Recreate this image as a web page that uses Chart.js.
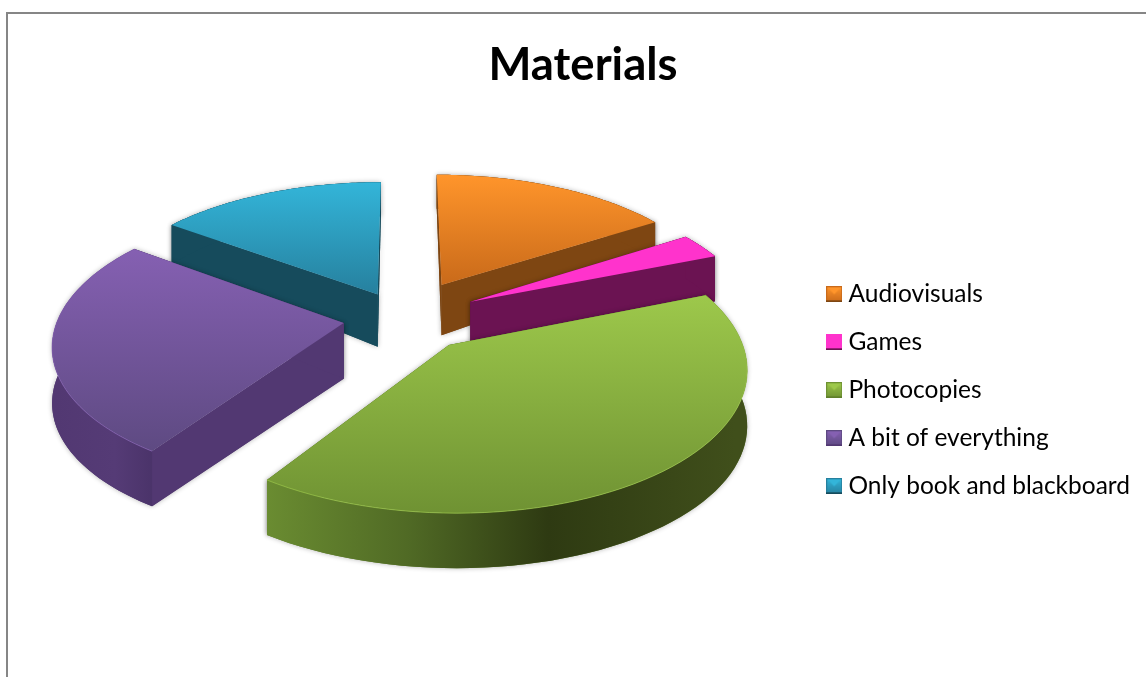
<!DOCTYPE html>
<html><head><meta charset="utf-8">
<style>html,body{margin:0;padding:0;background:#fff}#w{position:absolute;left:0;top:0;width:1146px;height:677px}</style>
<script src="https://cdn.jsdelivr.net/npm/chart.js@4"></script>
</head><body><div id="w"><canvas id="c" width="1146" height="677"></canvas></div>
<script>
const titleText = "Materials";
const categories = ["Audiovisuals","Games","Photocopies","A bit of everything","Only book and blackboard"];
const values = [16,3,40.5,25.5,15];
const explode = [0.29,0.27,0.25,0.21,0.2];
const topLight = ["#FF952B","#FF33CC","#9DC84B","#8560B2","#33B5D9"];
const topDark  = ["#C96A1A","#FF33CC","#6F9233","#5E4A82","#26809E"];
const sideCol  = ["#7E4612","#6B1352","#5F7F2B","#523872","#164B5C"];
const drawOrder = [4,0,1,3,2];
const view = {cx:403,cy:318,c:285.5,a:135,b:0.145};

function proj(u,v){const k=1+view.b*v;return [view.cx+view.c*u/k, view.cy-view.a*v/k];}
function depth(v){return v>0?56-22*Math.min(v,1):56-2*Math.max(v,-1)*-0-1*Math.min(1,-v);}
function trace(ctx,pts,move){pts.forEach((p,i)=>{(i===0&&move)?ctx.moveTo(p[0],p[1]):ctx.lineTo(p[0],p[1]);});}

const pie3d = {
  id:'pie3d',
  beforeDraw(chart){
    const ctx=chart.ctx;ctx.save();ctx.fillStyle='#fff';ctx.fillRect(0,0,1146,677);
    ctx.strokeStyle='#868686';ctx.lineWidth=2;ctx.beginPath();ctx.moveTo(7,677);ctx.lineTo(7,13);ctx.lineTo(1146,13);ctx.stroke();ctx.restore();
  },
  beforeDatasetDraw(chart,args){
    const ctx=chart.ctx, arcs=chart.getDatasetMeta(args.index).data;
    drawOrder.forEach(i=>{
      const el=arcs[i], s=el.startAngle, e=el.endAngle, m=(s+e)/2, off=el.options.offset/200;
      const ou=off*Math.cos(m), ov=-off*Math.sin(m);
      const rim=[],rimUV=[];const N=64;
      for(let k=0;k<=N;k++){const t=s+(e-s)*k/N;const u=ou+Math.cos(t),v=ov-Math.sin(t);rim.push(proj(u,v));rimUV.push([u,v]);}
      const apex=proj(ou,ov), dA=depth(ov);
      const rimLow=rim.map((p,k)=>[p[0],p[1]+depth(rimUV[k][1])]);
      const apexLow=[apex[0],apex[1]+dA];
      const cutPath=(q,ql)=>{ctx.moveTo(apex[0],apex[1]);ctx.lineTo(q[0],q[1]);ctx.lineTo(ql[0],ql[1]);ctx.lineTo(apexLow[0],apexLow[1]);ctx.closePath();};
      const wallPath=()=>{trace(ctx,rim,true);trace(ctx,rimLow.slice().reverse(),false);ctx.closePath();};
      ctx.save();
      ctx.shadowColor='rgba(0,0,0,0.3)';ctx.shadowBlur=5;ctx.fillStyle=sideCol[i];
      ctx.beginPath();cutPath(rim[0],rimLow[0]);ctx.fill();
      ctx.beginPath();cutPath(rim[N],rimLow[N]);ctx.fill();
      ctx.beginPath();wallPath();ctx.fill();
      ctx.shadowBlur=0;ctx.shadowColor='transparent';
      ctx.beginPath();cutPath(rim[0],rimLow[0]);ctx.fill();
      ctx.beginPath();cutPath(rim[N],rimLow[N]);ctx.fill();
      let wall=sideCol[i];
      if(i===2){const g=ctx.createLinearGradient(rim[N][0],0,rim[0][0]+30,0);
        g.addColorStop(0,'#6A8C31');g.addColorStop(0.3,'#506A25');g.addColorStop(0.6,'#2E3A12');g.addColorStop(1,'#404F1B');wall=g;}
      if(i===3){const g=ctx.createLinearGradient(55,0,155,0);
        g.addColorStop(0,'#523872');g.addColorStop(0.6,'#553B76');g.addColorStop(1,'#4A3369');wall=g;}
      ctx.fillStyle=wall;
      ctx.beginPath();wallPath();ctx.fill();
      const ys=rim.map(p=>p[1]).concat(apex[1]);
      const g=ctx.createLinearGradient(0,Math.min(...ys),0,Math.max(...ys));
      g.addColorStop(0,topLight[i]);g.addColorStop(1,topDark[i]);
      ctx.fillStyle=g;
      ctx.beginPath();ctx.moveTo(apex[0],apex[1]);trace(ctx,rim,false);ctx.closePath();ctx.fill();
      if(i===2||i===3){ctx.strokeStyle=topLight[i];ctx.globalAlpha=0.7;ctx.lineWidth=1;ctx.beginPath();trace(ctx,rim,true);ctx.stroke();}
      ctx.restore();
    });
    return false;
  }
};

function legendMark(i){
  const m=document.createElement('canvas');m.width=16;m.height=16;const x=m.getContext('2d');
  x.fillStyle=topDark[i];x.fillRect(0,0,16,16);
  const g=x.createLinearGradient(0,0,0,16);g.addColorStop(0,topLight[i]);g.addColorStop(1,topDark[i]);
  x.fillStyle=g;x.fillRect(1,1,14,14);
  x.fillStyle=topLight[i];x.beginPath();x.moveTo(1,1);x.lineTo(15,1);x.lineTo(8,8);x.closePath();x.fill();
  x.fillStyle=sideCol[i];x.fillRect(0,14,16,2);
  return m;
}

new Chart(document.getElementById('c'),{
  type:'pie',
  data:{labels:categories,datasets:[{data:values,backgroundColor:topLight,borderWidth:0,
    offset:explode.map(f=>f*200)}]},
  options:{
    responsive:false,animation:false,
    layout:{padding:{left:26,top:0,right:6,bottom:0}},
    plugins:{
      tooltip:{enabled:false},
      title:{display:true,text:titleText,color:'#000',font:{family:'Lato',size:45.5,weight:'bold'},padding:{top:38,bottom:11}},
      legend:{position:'right',fullSize:false,labels:{
        font:{family:'Lato',size:24.5},color:'#000',usePointStyle:true,boxWidth:16,boxHeight:16,pointStyleWidth:4,padding:23.5,
        generateLabels(chart){return categories.map((t,i)=>({text:t,fontColor:'#000',pointStyle:legendMark(i),index:i,hidden:false,lineWidth:0}));}
      }}
    }
  },
  plugins:[pie3d]
});
</script></body></html>
